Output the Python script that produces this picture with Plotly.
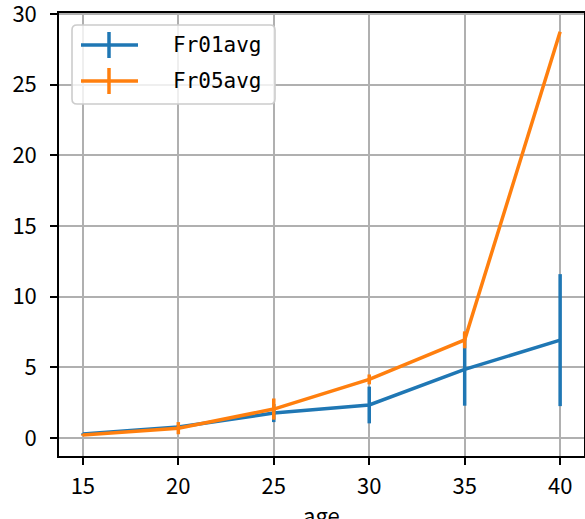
import plotly.graph_objects as go

ages = [15, 20, 25, 30, 35, 40]
fr01_avg = [0.28, 0.78, 1.77, 2.34, 4.86, 6.93]
fr01_err = [0.05, 0.15, 0.64, 1.30, 2.57, 4.67]
fr05_avg = [0.22, 0.70, 2.05, 4.15, 6.95, 28.75]
fr05_err = [0.05, 0.43, 0.75, 0.35, 0.60, 0.0]
series_names = ["Fr01avg", "Fr05avg"]
x_title = "age"
x_ticks = [15, 20, 25, 30, 35, 40]
y_ticks = [0, 5, 10, 15, 20, 25, 30]

BLUE = "#1f77b4"
ORANGE = "#ff7f0e"
FONT = "Noto Sans CJK JP"
LFONT = "DejaVu Sans Mono"
FS = 22
W, H = 585, 519
L, R, T, B = 59, 584, 13, 456

fig = go.Figure()
for y, e, c in [(fr01_avg, fr01_err, BLUE), (fr05_avg, fr05_err, ORANGE)]:
    fig.add_trace(go.Scatter(
        x=ages, y=y, mode="lines",
        line=dict(color=c, width=3.5),
        error_y=dict(type="data", array=e, visible=True, width=0, thickness=3.5, color=c),
        showlegend=False, hoverinfo="skip",
    ))

def px(x):
    return (x - L) / (R - L)

def py(y):
    return (B - y) / (B - T)

shapes = []
x0, x1, y0, y1, r = 72, 275, 25, 104, 5
path = (f"M {px(x0+r)},{py(y0)} L {px(x1-r)},{py(y0)} Q {px(x1)},{py(y0)} {px(x1)},{py(y0+r)} "
        f"L {px(x1)},{py(y1-r)} Q {px(x1)},{py(y1)} {px(x1-r)},{py(y1)} "
        f"L {px(x0+r)},{py(y1)} Q {px(x0)},{py(y1)} {px(x0)},{py(y1-r)} "
        f"L {px(x0)},{py(y0+r)} Q {px(x0)},{py(y0)} {px(x0+r)},{py(y0)} Z")
shapes.append(dict(type="path", path=path, xref="paper", yref="paper",
                   fillcolor="rgba(255,255,255,0.8)", line=dict(color="#cccccc", width=1.6),
                   layer="above"))
annotations = []
for i, (name, c) in enumerate(zip(series_names, [BLUE, ORANGE])):
    cy = 45 + i * 36
    shapes.append(dict(type="line", xref="paper", yref="paper", x0=px(81), x1=px(138),
                       y0=py(cy), y1=py(cy), line=dict(color=c, width=3.5), layer="above"))
    shapes.append(dict(type="line", xref="paper", yref="paper", x0=px(109), x1=px(109),
                       y0=py(cy - 13), y1=py(cy + 13), line=dict(color=c, width=3.5), layer="above"))
    annotations.append(dict(text=name, x=px(171), y=py(cy), xref="paper", yref="paper",
                            xanchor="left", yanchor="middle", showarrow=False,
                            font=dict(family=LFONT, size=21, color="black")))
annotations.append(dict(text=x_title, x=0.5, y=py(514), xref="paper", yref="paper",
                        xanchor="center", yanchor="middle", showarrow=False,
                        font=dict(family=FONT, size=FS, color="black")))

axis_common = dict(
    showgrid=True, gridcolor="#b0b0b0", gridwidth=1.6,
    showline=True, linecolor="black", linewidth=1.6, mirror=True,
    ticks="outside", ticklen=7, tickwidth=1.6, tickcolor="black",
    tickfont=dict(family=FONT, size=FS, color="black"),
    zeroline=False, automargin=False, ticklabeloverflow="allow",
)

fig.update_layout(
    width=W, height=H,
    margin=dict(l=L, r=W - R, t=T, b=H - B),
    paper_bgcolor="white", plot_bgcolor="white",
    xaxis=dict(range=[13.75, 41.25], tickvals=x_ticks, ticklabelstandoff=3, **axis_common),
    yaxis=dict(range=[-1.27, 30.08], tickvals=y_ticks, ticklabelstandoff=9, **axis_common),
    shapes=shapes, annotations=annotations,
)

fig.write_html("out.html", config={"displayModeBar": False},
               post_script="document.body.style.margin='0';document.body.style.overflow='hidden';")
